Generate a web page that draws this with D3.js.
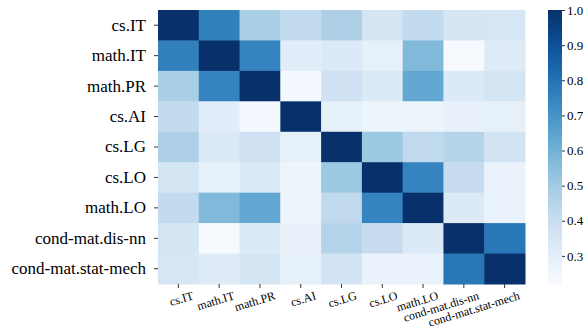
<!DOCTYPE html>
<html><head><meta charset="utf-8">
<script src="https://cdn.jsdelivr.net/npm/d3@7"></script>
<style>body{margin:0;background:#fff;} svg{display:block;} svg text{font-family:"Liberation Serif","Times New Roman",Times,serif;}</style>
</head><body>
<svg id="chart" width="585" height="334"></svg>
<script>
const categories = ["cs.IT","math.IT","math.PR","cs.AI","cs.LG","cs.LO","math.LO","cond-mat.dis-nn","cond-mat.stat-mech"];
const row_csIT   = [1.00,0.756,0.483,0.415,0.474,0.357,0.415,0.357,0.347];
const row_mathIT = [0.756,1.00,0.747,0.308,0.327,0.288,0.571,0.225,0.318];
const row_mathPR = [0.483,0.747,1.00,0.235,0.376,0.327,0.630,0.327,0.357];
const row_csAI   = [0.415,0.308,0.235,1.00,0.288,0.259,0.259,0.279,0.288];
const row_csLG   = [0.474,0.327,0.376,0.288,1.00,0.513,0.425,0.454,0.366];
const row_csLO   = [0.357,0.288,0.327,0.259,0.513,1.00,0.747,0.405,0.269];
const row_mathLO = [0.415,0.571,0.630,0.259,0.425,0.747,1.00,0.327,0.269];
const row_disnn  = [0.357,0.225,0.327,0.279,0.454,0.405,0.327,1.00,0.786];
const row_stat   = [0.347,0.318,0.357,0.288,0.366,0.269,0.269,0.786,1.00];
const matrix = [row_csIT,row_mathIT,row_mathPR,row_csAI,row_csLG,row_csLO,row_mathLO,row_disnn,row_stat];
const colorTicks = [0.3,0.4,0.5,0.6,0.7,0.8,0.9,1.0];
const vmin = 0.22, vmax = 1.0;

(function () {
const svg = d3.select("#chart");
const mLeft = 158, mRight = 525, mTop = 10, mBottom = 284;
const x = d3.scaleBand().domain(categories).range([mLeft, mRight]);
const y = d3.scaleBand().domain(categories).range([mTop, mBottom]);
const color = d3.scaleSequential(d3.interpolateBlues).domain([vmin, vmax]);
const font = '"Liberation Serif", "Times New Roman", Times, serif';

const cells = [];
matrix.forEach((row, i) => row.forEach((v, j) => cells.push({r: categories[i], c: categories[j], v})));
svg.append("g").selectAll("rect").data(cells).join("rect")
  .attr("x", d => x(d.c)).attr("y", d => y(d.r))
  .attr("width", x.bandwidth() + 0.5).attr("height", y.bandwidth() + 0.5)
  .attr("fill", d => color(d.v));

// y axis
const yAxis = svg.append("g").attr("transform", `translate(${mLeft},0)`)
  .call(d3.axisLeft(y).tickSize(4).tickPadding(8));
yAxis.attr("font-family", null).attr("font-size", null);
yAxis.select(".domain").remove();
yAxis.selectAll("line").attr("stroke", "#333");
yAxis.selectAll("text").style("font-family", font).style("font-size", "17px").attr("fill", "#000");

// x axis
const xAxis = svg.append("g").attr("transform", `translate(0,${mBottom})`)
  .call(d3.axisBottom(x).tickSize(4));
xAxis.attr("font-family", null).attr("font-size", null);
xAxis.select(".domain").remove();
xAxis.selectAll("line").attr("stroke", "#333");
xAxis.selectAll("text")
  .style("font-family", font).style("font-size", "12px").attr("fill", "#000")
  .attr("text-anchor", "end").attr("dy", null).attr("y", 0)
  .attr("transform", "translate(16,15) rotate(-17)");

// colorbar
const cbX = 548, cbW = 14;
const cy = d3.scaleLinear().domain([vmin, vmax]).range([mBottom, mTop]);
const defs = svg.append("defs");
const grad = defs.append("linearGradient").attr("id", "cb").attr("x1", 0).attr("y1", 1).attr("x2", 0).attr("y2", 0);
d3.range(0, 1.0001, 0.05).forEach(t => grad.append("stop").attr("offset", t).attr("stop-color", color(vmin + t * (vmax - vmin))));
svg.append("rect").attr("x", cbX).attr("y", mTop).attr("width", cbW).attr("height", mBottom - mTop).attr("fill", "url(#cb)");
const cAxis = svg.append("g").attr("transform", `translate(${cbX + cbW},0)`)
  .call(d3.axisRight(cy).tickValues(colorTicks).tickFormat(d3.format(".1f")).tickSize(3).tickPadding(2));
cAxis.attr("font-family", null).attr("font-size", null);
cAxis.select(".domain").remove();
cAxis.selectAll("line").attr("stroke", "#333");
cAxis.selectAll("text").style("font-family", font).style("font-size", "13px").attr("fill", "#000");
})();
</script>
</body></html>
